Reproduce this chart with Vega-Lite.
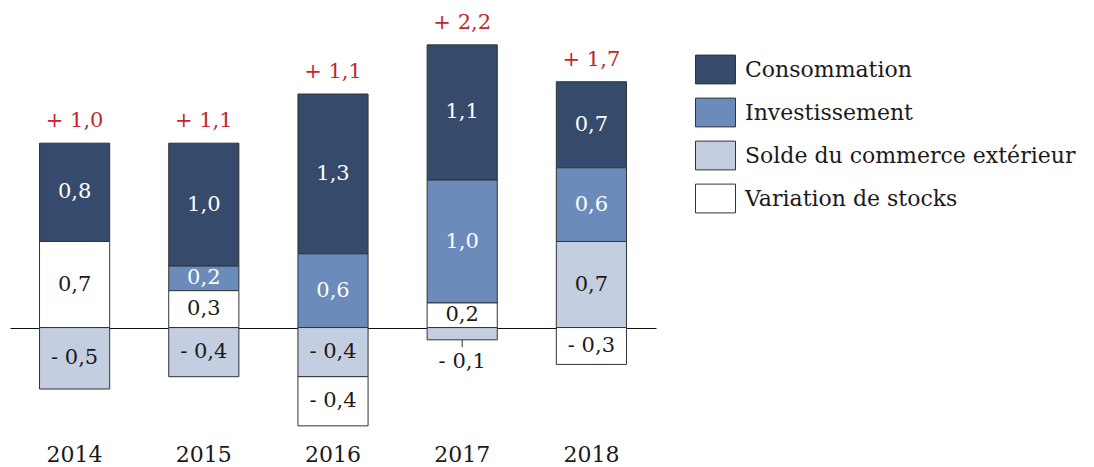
{
  "$schema": "https://vega.github.io/schema/vega-lite/v6.json",
  "width": 646,
  "height": 424,
  "autosize": "none",
  "padding": {"left": 10, "top": 8, "right": 438, "bottom": 35},
  "background": "white",
  "config": {"view": {"stroke": null}},
  "data": {
    "values": [
      {"year": "2014", "cat": "Consommation", "value": 0.8},
      {"year": "2014", "cat": "Solde du commerce extérieur", "value": -0.5},
      {"year": "2014", "cat": "Variation de stocks", "value": 0.7},
      {"year": "2015", "cat": "Consommation", "value": 1.0},
      {"year": "2015", "cat": "Investissement", "value": 0.2},
      {"year": "2015", "cat": "Solde du commerce extérieur", "value": -0.4},
      {"year": "2015", "cat": "Variation de stocks", "value": 0.3},
      {"year": "2016", "cat": "Consommation", "value": 1.3},
      {"year": "2016", "cat": "Investissement", "value": 0.6},
      {"year": "2016", "cat": "Solde du commerce extérieur", "value": -0.4},
      {"year": "2016", "cat": "Variation de stocks", "value": -0.4},
      {"year": "2017", "cat": "Consommation", "value": 1.1},
      {"year": "2017", "cat": "Investissement", "value": 1.0},
      {"year": "2017", "cat": "Solde du commerce extérieur", "value": -0.1},
      {"year": "2017", "cat": "Variation de stocks", "value": 0.2},
      {"year": "2018", "cat": "Consommation", "value": 0.7},
      {"year": "2018", "cat": "Investissement", "value": 0.6},
      {"year": "2018", "cat": "Solde du commerce extérieur", "value": 0.7},
      {"year": "2018", "cat": "Variation de stocks", "value": -0.3}
    ]
  },
  "transform": [
    {"calculate": "datum.cat == 'Consommation' ? 3 : (datum.cat == 'Investissement' ? 2 : (datum.cat == 'Variation de stocks' ? 1 : 0))", "as": "ord"},
    {"calculate": "max(datum.value, 0)", "as": "pv"},
    {"calculate": "min(datum.value, 0)", "as": "nv"},
    {"window": [{"op": "sum", "field": "pv", "as": "cp"}, {"op": "sum", "field": "nv", "as": "cn"}], "groupby": ["year"], "sort": [{"field": "ord", "order": "ascending"}], "frame": [null, 0]},
    {"calculate": "datum.value >= 0 ? datum.cp : datum.cn", "as": "v1"},
    {"calculate": "datum.v1 - datum.value", "as": "v0"},
    {"calculate": "min(datum.v0, datum.v1)", "as": "lo"},
    {"calculate": "datum.lo - 0.06", "as": "tk"},
    {"calculate": "abs(datum.value) < 0.15 && datum.value < 0 ? datum.lo - 0.18 : (datum.v0 + datum.v1) / 2", "as": "ly"},
    {"calculate": "(datum.value < 0 ? '- ' : '') + replace(format(abs(datum.value), '.1f'), '.', ',')", "as": "lab"}
  ],
  "layer": [
    {
      "mark": {"type": "bar", "stroke": "#333333", "strokeWidth": 1},
      "encoding": {
        "x": {
          "field": "year", "type": "nominal",
          "scale": {"paddingInner": 0.457, "paddingOuter": 0.2285},
          "axis": {"title": null, "labelAngle": 0, "domain": false, "ticks": false, "labelFontSize": 22, "labelColor": "#1a1a1a", "labelPadding": 12, "labelFont": "DejaVu Serif"}
        },
        "y": {
          "field": "v0", "type": "quantitative",
          "scale": {"domain": [-0.85, 2.6], "nice": false, "zero": false},
          "axis": {"title": null, "values": [0], "grid": true, "gridColor": "#111111", "gridOpacity": 1, "gridWidth": 1, "labels": false, "ticks": false, "domain": false}
        },
        "y2": {"field": "v1"},
        "color": {
          "field": "cat", "type": "nominal",
          "scale": {
            "domain": ["Consommation", "Investissement", "Solde du commerce extérieur", "Variation de stocks"],
            "range": ["#364a6b", "#6b8bbb", "#c4cee1", "#ffffff"]
          },
          "legend": {
            "title": null,
            "orient": "none",
            "legendX": 685,
            "legendY": 41,
            "symbolType": "M-1,-0.72H1V0.72H-1Z",
            "symbolSize": 1600,
            "symbolStrokeColor": "#333333",
            "symbolStrokeWidth": 1,
            "labelFontSize": 22,
            "labelFont": "DejaVu Serif",
            "labelColor": "#1a1a1a",
            "labelOffset": 9,
            "rowPadding": 6,
            "labelLimit": 400
          }
        }
      }
    },
    {
      "transform": [{"filter": "abs(datum.value) < 0.15 && datum.value < 0"}],
      "mark": {"type": "rule", "color": "#333333", "strokeWidth": 1},
      "encoding": {
        "x": {"field": "year", "type": "nominal"},
        "y": {"field": "lo", "type": "quantitative"},
        "y2": {"field": "tk"}
      }
    },
    {
      "transform": [{"filter": "datum.ord >= 2"}],
      "mark": {"type": "text", "fontSize": 21, "font": "DejaVu Serif", "baseline": "middle", "align": "center", "color": "#ffffff"},
      "encoding": {
        "x": {"field": "year", "type": "nominal"},
        "y": {"field": "ly", "type": "quantitative"},
        "text": {"field": "lab"}
      }
    },
    {
      "transform": [{"filter": "datum.ord < 2"}],
      "mark": {"type": "text", "fontSize": 21, "font": "DejaVu Serif", "baseline": "middle", "align": "center", "color": "#1a1a1a"},
      "encoding": {
        "x": {"field": "year", "type": "nominal"},
        "y": {"field": "ly", "type": "quantitative"},
        "text": {"field": "lab"}
      }
    },
    {
      "transform": [
        {"aggregate": [{"op": "sum", "field": "pv", "as": "top"}, {"op": "sum", "field": "value", "as": "tot"}], "groupby": ["year"]},
        {"calculate": "'+ ' + replace(format(datum.tot, '.1f'), '.', ',')", "as": "tl"}
      ],
      "mark": {"type": "text", "fontSize": 21, "font": "DejaVu Serif", "baseline": "middle", "align": "center", "dy": -22, "color": "#c1272d"},
      "encoding": {
        "x": {"field": "year", "type": "nominal"},
        "y": {"field": "top", "type": "quantitative"},
        "text": {"field": "tl"}
      }
    }
  ]
}
